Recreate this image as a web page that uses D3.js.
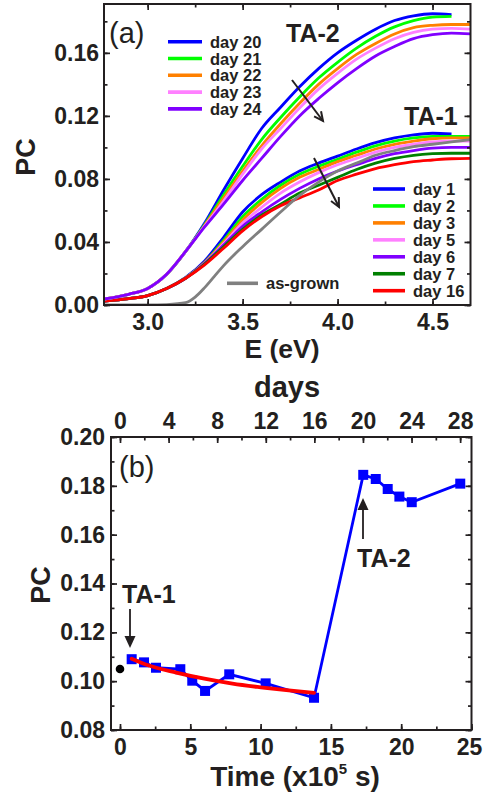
<!DOCTYPE html>
<html>
<head>
<meta charset="utf-8">
<script src="https://cdn.jsdelivr.net/npm/d3@7"></script>
<style>
  body { margin: 0; background: #fff; }
  svg { display: block; font-family: "Liberation Sans", Arial, sans-serif; }
  .tick text { font-weight: bold; fill: #231f20; }
</style>
</head>
<body>
<svg id="svg" width="483" height="796"></svg>
<script>
// ---- panel (a) data: photocurrent spectra ----
var eGrid = [2.77, 2.9, 3.0, 3.1, 3.2, 3.3, 3.4, 3.5, 3.6, 3.7, 3.8, 3.9, 4.0, 4.1, 4.2, 4.3, 4.4, 4.5, 4.6, 4.7];

var ta2Labels = ["day 20", "day 21", "day 22", "day 23", "day 24"];
var ta2Colors = ["#0000ff", "#00ff00", "#ff8000", "#ff80ff", "#8000ff"];
var ta2Day20 = [0.0038, 0.0068, 0.0105, 0.0195, 0.034, 0.052, 0.073, 0.093, 0.112, 0.1255, 0.1385, 0.150, 0.160, 0.168, 0.175, 0.1805, 0.1835, 0.1848, 0.1842];
var ta2Day21 = [0.0038, 0.0068, 0.0105, 0.0195, 0.034, 0.051, 0.070, 0.088, 0.105, 0.119, 0.132, 0.144, 0.154, 0.163, 0.1705, 0.1765, 0.1805, 0.1827, 0.1832];
var ta2Day22 = [0.0038, 0.0068, 0.0105, 0.0195, 0.034, 0.0505, 0.068, 0.085, 0.101, 0.115, 0.128, 0.140, 0.150, 0.159, 0.166, 0.172, 0.176, 0.1775, 0.178, 0.178];
var ta2Day23 = [0.0038, 0.0068, 0.0105, 0.0195, 0.034, 0.050, 0.066, 0.083, 0.099, 0.112, 0.125, 0.137, 0.147, 0.156, 0.163, 0.169, 0.173, 0.175, 0.1755, 0.175];
var ta2Day24 = [0.0038, 0.0068, 0.0105, 0.0195, 0.034, 0.0495, 0.064, 0.079, 0.093, 0.107, 0.120, 0.131, 0.141, 0.150, 0.158, 0.164, 0.169, 0.1715, 0.1725, 0.172];

var ta1Labels = ["day 1", "day 2", "day 3", "day 5", "day 6", "day 7", "day 16"];
var ta1Colors = ["#0000ff", "#00ff00", "#ff8000", "#ff80ff", "#8000ff", "#008000", "#ff0000"];
var ta1Day1 = [0.0025, 0.004, 0.006, 0.0105, 0.0175, 0.028, 0.043, 0.059, 0.070, 0.078, 0.085, 0.090, 0.0945, 0.099, 0.103, 0.106, 0.108, 0.109, 0.1085];
var ta1Day2 = [0.0025, 0.004, 0.006, 0.0105, 0.0172, 0.027, 0.041, 0.056, 0.067, 0.076, 0.083, 0.088, 0.0925, 0.097, 0.101, 0.104, 0.106, 0.107, 0.107, 0.107];
var ta1Day3 = [0.0025, 0.004, 0.006, 0.0105, 0.0172, 0.027, 0.040, 0.054, 0.065, 0.074, 0.081, 0.086, 0.091, 0.095, 0.099, 0.102, 0.104, 0.1055, 0.106, 0.106];
var ta1Day5 = [0.0025, 0.004, 0.006, 0.0105, 0.017, 0.0265, 0.039, 0.052, 0.062, 0.071, 0.078, 0.084, 0.089, 0.093, 0.097, 0.100, 0.102, 0.1035, 0.104, 0.104];
var ta1Day6 = [0.0025, 0.004, 0.006, 0.0105, 0.017, 0.0265, 0.038, 0.050, 0.059, 0.067, 0.074, 0.080, 0.085, 0.089, 0.093, 0.096, 0.098, 0.0995, 0.100, 0.100];
var ta1Day7 = [0.0025, 0.004, 0.006, 0.0105, 0.017, 0.026, 0.037, 0.048, 0.057, 0.064, 0.071, 0.076, 0.081, 0.086, 0.090, 0.093, 0.095, 0.096, 0.0963, 0.0963];
var ta1Day16 = [0.0025, 0.004, 0.006, 0.0105, 0.017, 0.0255, 0.036, 0.047, 0.056, 0.063, 0.068, 0.073, 0.079, 0.083, 0.0865, 0.089, 0.091, 0.092, 0.0928, 0.093];

var eGray = [2.77, 3.0, 3.1, 3.2, 3.25, 3.3, 3.35, 3.4, 3.5, 3.6, 3.7, 3.8, 3.9, 4.0, 4.1, 4.2, 4.3, 4.4, 4.5, 4.6, 4.7];
var asGrown = [0, 0, 0.0003, 0.0015, 0.005, 0.011, 0.018, 0.025, 0.037, 0.048, 0.059, 0.0695, 0.078, 0.085, 0.090, 0.095, 0.098, 0.1005, 0.102, 0.1035, 0.105];

var aXTicks = [3.0, 3.5, 4.0, 4.5];
var aYTicks = [0.00, 0.04, 0.08, 0.12, 0.16];

// ---- panel (b) data: PC vs time ----
var timeVals = [0.83, 1.71, 2.56, 4.29, 5.14, 6.05, 7.77, 10.36, 13.8, 17.3, 18.19, 19.04, 19.87, 20.75, 24.2];
var pcVals = [0.109, 0.1077, 0.1055, 0.1049, 0.1002, 0.096, 0.1028, 0.0991, 0.0932, 0.1845, 0.1828, 0.1787, 0.1756, 0.1733, 0.1809];
var asGrownPoint = [0, 0.105];
var fitTime = [0.83, 2, 4, 6, 8, 10, 12, 13.8];
var fitPC = [0.1092, 0.1065, 0.1035, 0.1010, 0.0990, 0.0975, 0.0962, 0.0952];
var bXTicks = [0, 5, 10, 15, 20, 25];
var bYTicks = [0.08, 0.10, 0.12, 0.14, 0.16, 0.18, 0.20];
var dayTicks = [0, 4, 8, 12, 16, 20, 24, 28];
var secPerDay = 0.864; // x10^5 s

var svg = d3.select("#svg");
var ink = "#231f20";
var tickFont = 23;

function frame(g, x, y, xMajor, xMinor, yMajor, yMinor, fmtX, fmtY, padX, padY, topAxis) {
  var r = x.range(), t = y.range();
  var bottom = t[0], top = t[1];
  g.append("g").attr("transform", "translate(0," + bottom + ")")
    .call(d3.axisBottom(x).tickValues(xMinor).tickSize(-3.5).tickFormat(""));
  g.append("g").attr("class", "xlab").attr("transform", "translate(0," + bottom + ")")
    .call(d3.axisBottom(x).tickValues(xMajor).tickSize(-6).tickPadding(padX).tickFormat(fmtX));
  if (!topAxis) {
    g.append("g").attr("transform", "translate(0," + top + ")")
      .call(d3.axisTop(x).tickValues(xMinor).tickSize(-3.5).tickFormat(""));
    g.append("g").attr("transform", "translate(0," + top + ")")
      .call(d3.axisTop(x).tickValues(xMajor).tickSize(-6).tickFormat(""));
  }
  g.append("g").attr("transform", "translate(" + r[0] + ",0)")
    .call(d3.axisLeft(y).tickValues(yMinor).tickSize(-3.5).tickFormat(""));
  g.append("g").attr("transform", "translate(" + r[0] + ",0)")
    .call(d3.axisLeft(y).tickValues(yMajor).tickSize(-6).tickPadding(padY).tickFormat(fmtY));
  g.append("g").attr("transform", "translate(" + r[1] + ",0)")
    .call(d3.axisRight(y).tickValues(yMinor).tickSize(-3.5).tickFormat(""));
  g.append("g").attr("transform", "translate(" + r[1] + ",0)")
    .call(d3.axisRight(y).tickValues(yMajor).tickSize(-6).tickFormat(""));
  g.selectAll(".domain").remove();
  g.selectAll(".tick line").attr("stroke", ink).attr("stroke-width", 1.7);
  g.selectAll(".tick text").attr("font-size", tickFont);
  g.append("rect").attr("x", r[0]).attr("y", top)
    .attr("width", r[1] - r[0]).attr("height", bottom - top)
    .attr("fill", "none").attr("stroke", ink).attr("stroke-width", 2);
}

function arrowOpen(g, x1, y1, x2, y2) {
  var ang = Math.atan2(y2 - y1, x2 - x1), L = 10, w = 0.45;
  g.append("line").attr("x1", x1).attr("y1", y1).attr("x2", x2).attr("y2", y2)
    .attr("stroke", ink).attr("stroke-width", 2);
  g.append("path")
    .attr("d", "M" + (x2 - L * Math.cos(ang - w)) + "," + (y2 - L * Math.sin(ang - w)) +
      "L" + x2 + "," + y2 + "L" + (x2 - L * Math.cos(ang + w)) + "," + (y2 - L * Math.sin(ang + w)))
    .attr("fill", "none").attr("stroke", ink).attr("stroke-width", 2);
}

function arrowFilled(g, x, y1, y2) {
  var dir = y2 > y1 ? 1 : -1;
  g.append("line").attr("x1", x).attr("y1", y1).attr("x2", x).attr("y2", y2 - dir * 10)
    .attr("stroke", ink).attr("stroke-width", 1.8);
  g.append("path").attr("d", "M" + (x - 5.5) + "," + (y2 - dir * 12) + "L" + x + "," + y2 +
      "L" + (x + 5.5) + "," + (y2 - dir * 12) + "Z").attr("fill", ink);
}

// ================= panel (a) =================
var xa = d3.scaleLinear().domain([2.77, 4.70]).range([104, 470.5]);
var ya = d3.scaleLinear().domain([0, 0.191]).range([305, 4]);
var ga = svg.append("g");

var lineA = d3.line().x(function (d) { return xa(d[0]); }).y(function (d) { return ya(d[1]); })
  .curve(d3.curveMonotoneX);
function zipE(es, vals) { return vals.map(function (v, i) { return [es[i], v]; }); }

svg.append("clipPath").attr("id", "clipA").append("rect")
  .attr("x", 104).attr("y", 4).attr("width", 366.5).attr("height", 301);
var curves = ga.append("g").attr("clip-path", "url(#clipA)");

var ta1Series = [ta1Day1, ta1Day2, ta1Day3, ta1Day5, ta1Day6, ta1Day7, ta1Day16];
var ta2Series = [ta2Day20, ta2Day21, ta2Day22, ta2Day23, ta2Day24];

ta1Series.forEach(function (s, i) {
  curves.append("path").attr("d", lineA(zipE(eGrid, s)))
    .attr("fill", "none").attr("stroke", ta1Colors[i]).attr("stroke-width", 2.8);
});
curves.append("path").attr("d", lineA(zipE(eGray, asGrown)))
  .attr("fill", "none").attr("stroke", "#808080").attr("stroke-width", 2.8);
ta2Series.forEach(function (s, i) {
  curves.append("path").attr("d", lineA(zipE(eGrid, s)))
    .attr("fill", "none").attr("stroke", ta2Colors[i]).attr("stroke-width", 2.8);
});

frame(ga, xa, ya, aXTicks, d3.range(2.75, 4.71, 0.25).filter(function (v) { return v >= 2.77; }),
  aYTicks, d3.range(0, 0.19, 0.02), d3.format(".1f"), d3.format(".2f"), 8.5, 5, false);

// legends (a)
var legFont = 16.5;
var leg2 = ga.append("g");
ta2Labels.forEach(function (lab, i) {
  var yy = 41.7 + i * 16.8;
  leg2.append("line").attr("x1", 168).attr("x2", 202).attr("y1", yy).attr("y2", yy)
    .attr("stroke", ta2Colors[i]).attr("stroke-width", 3.6);
  leg2.append("text").attr("x", 210).attr("y", yy + 6).text(lab)
    .attr("font-size", legFont).attr("font-weight", "bold").attr("fill", ink);
});
var leg1 = ga.append("g");
ta1Labels.forEach(function (lab, i) {
  var yy = 189 + i * 16.95;
  leg1.append("line").attr("x1", 373).attr("x2", 405).attr("y1", yy).attr("y2", yy)
    .attr("stroke", ta1Colors[i]).attr("stroke-width", 3.6);
  leg1.append("text").attr("x", 413).attr("y", yy + 6).text(lab)
    .attr("font-size", legFont).attr("font-weight", "bold").attr("fill", ink);
});
ga.append("line").attr("x1", 227).attr("x2", 258).attr("y1", 283.3).attr("y2", 283.3)
  .attr("stroke", "#808080").attr("stroke-width", 3.6);
ga.append("text").attr("x", 266).attr("y", 289.3).text("as-grown")
  .attr("font-size", legFont).attr("font-weight", "bold").attr("fill", ink);

ga.append("text").attr("x", 109).attr("y", 43).text("(a)").attr("font-size", 29).attr("fill", ink);
ga.append("text").attr("x", 286).attr("y", 42).text("TA-2")
  .attr("font-size", 25).attr("font-weight", "bold").attr("fill", ink);
ga.append("text").attr("x", 404).attr("y", 125).text("TA-1")
  .attr("font-size", 25).attr("font-weight", "bold").attr("fill", ink);
arrowOpen(ga, 292, 80, 323, 121);
arrowOpen(ga, 314, 158, 339, 207);

ga.append("text").attr("x", 282).attr("y", 358).attr("text-anchor", "middle").text("E (eV)")
  .attr("font-size", 26.5).attr("font-weight", "bold").attr("fill", ink);
ga.append("text").attr("transform", "translate(35,157) rotate(-90)").attr("text-anchor", "middle")
  .text("PC").attr("font-size", 27).attr("font-weight", "bold").attr("fill", ink);

// ================= panel (b) =================
var xb = d3.scaleLinear().domain([-0.64, 25]).range([111, 471.5]);
var yb = d3.scaleLinear().domain([0.08, 0.20]).range([730, 437]);
var gb = svg.append("g");

frame(gb, xb, yb, bXTicks, d3.range(0, 25.1, 2.5), bYTicks, d3.range(0.08, 0.2001, 0.01),
  d3.format("d"), d3.format(".2f"), 8.5, 6, true);
// keep the last label inside the page edge
gb.selectAll(".xlab .tick text").filter(function (d) { return d === 25; }).attr("dx", -2.5);

// top axis in days
gb.append("g").attr("transform", "translate(0,437)")
  .call(d3.axisTop(xb).tickValues(d3.range(0, 29, 2).map(function (d) { return d * secPerDay; }))
    .tickSize(-3.5).tickFormat(""));
gb.append("g").attr("transform", "translate(0,437)")
  .call(d3.axisTop(xb).tickValues(dayTicks.map(function (d) { return d * secPerDay; }))
    .tickSize(-6).tickPadding(8).tickFormat(function (v) { return Math.round(v / secPerDay); }));
gb.selectAll(".domain").remove();
gb.selectAll(".tick line").attr("stroke", ink).attr("stroke-width", 1.7);
gb.selectAll(".tick text").attr("font-size", tickFont);

var lineB = d3.line().x(function (d) { return xb(d[0]); }).y(function (d) { return yb(d[1]); });
var ptsB = timeVals.map(function (t, i) { return [t, pcVals[i]]; });
gb.append("path").attr("d", lineB(ptsB)).attr("fill", "none")
  .attr("stroke", "#0000ff").attr("stroke-width", 2.8);
gb.selectAll("rect.pt").data(ptsB).enter().append("rect").attr("class", "pt")
  .attr("x", function (d) { return xb(d[0]) - 5; }).attr("y", function (d) { return yb(d[1]) - 5; })
  .attr("width", 10).attr("height", 10).attr("fill", "#0000ff");
var fitPts = fitTime.map(function (t, i) { return [t, fitPC[i]]; });
gb.append("path").attr("d", lineB.curve(d3.curveMonotoneX)(fitPts)).attr("fill", "none")
  .attr("stroke", "#ff0000").attr("stroke-width", 3.8).attr("stroke-linecap", "round");
gb.append("circle").attr("cx", xb(asGrownPoint[0])).attr("cy", yb(asGrownPoint[1]))
  .attr("r", 4.3).attr("fill", "#000");

gb.append("text").attr("x", 119).attr("y", 477).text("(b)").attr("font-size", 29).attr("fill", ink);
gb.append("text").attr("x", 122).attr("y", 603).text("TA-1")
  .attr("font-size", 25).attr("font-weight", "bold").attr("fill", ink);
gb.append("text").attr("x", 357).attr("y", 567).text("TA-2")
  .attr("font-size", 25).attr("font-weight", "bold").attr("fill", ink);
arrowFilled(gb, 130, 609, 648);
arrowFilled(gb, 363, 539, 498);

gb.append("text").attr("x", 287).attr("y", 397).attr("text-anchor", "middle").text("days")
  .attr("font-size", 29).attr("font-weight", "bold").attr("fill", ink);
var tt = gb.append("text").attr("x", 295).attr("y", 786).attr("text-anchor", "middle")
  .attr("font-size", 28).attr("font-weight", "bold").attr("fill", ink);
tt.append("tspan").text("Time (x10");
tt.append("tspan").attr("font-size", 15).attr("dy", -12).text("5");
tt.append("tspan").attr("dy", 12).text(" s)");
gb.append("text").attr("transform", "translate(50,585) rotate(-90)").attr("text-anchor", "middle")
  .text("PC").attr("font-size", 27).attr("font-weight", "bold").attr("fill", ink);
</script>
</body>
</html>
